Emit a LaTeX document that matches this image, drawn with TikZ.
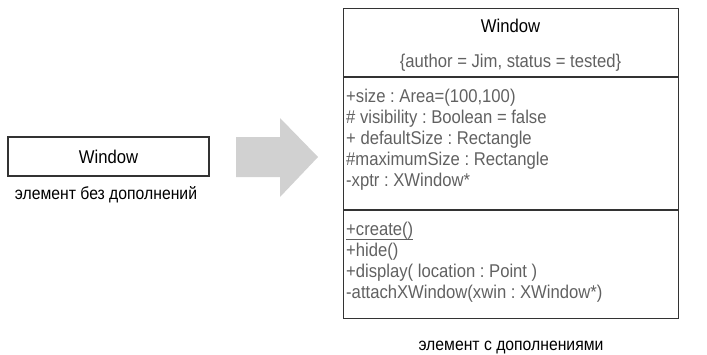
\documentclass[tikz,border=0pt]{standalone}
\usepackage{fontspec}
\setmainfont{Liberation Sans}[FakeStretch=0.9]
\usetikzlibrary{calc}
\frenchspacing

\definecolor{attrgray}{gray}{0.38}
\definecolor{edgegray}{gray}{0.2}
\definecolor{arrowgray}{gray}{0.82}

\tikzset{
  box/.style={draw=edgegray, line width=1.3pt, inner sep=0pt},
  member/.style={anchor=base west, text=attrgray, inner sep=0pt},
  caption/.style={anchor=base, inner sep=0pt},
}

\begin{document}
\begin{tikzpicture}[x=1pt,y=-1pt,font=\fontsize{18.5}{21}\selectfont]
    \useasboundingbox (0,0) rectangle (707,354);
    % element without extras
    \node[box, minimum width=201, minimum height=39] (plain) at (108.5,156.5) {Window};
    \node[caption, font=\fontsize{17.5}{21}\selectfont] (plaincap) at (106,199.5) {элемент без дополнений};
    % big grey arrow
    \fill[arrowgray] (236,137) -- (280,137) -- (280,118) -- (318,157)
        -- (280,197) -- (280,177) -- (236,177) -- cycle;
    % element with extras
    \node[box, anchor=north west, minimum width=335, minimum height=310] (full) at (343,8) {};
    \draw[edgegray, line width=1.3pt] (343,77) -- (678,77);
    \draw[edgegray, line width=1.3pt] (343,210) -- (678,210);
    \node[caption] (name) at (510.5,32) {Window};
    \node[caption, text=attrgray] (tags) at (510.5,67) {\{author = Jim, status = tested\}};
    \node[member] (a1) at (346,102.5) {+size : Area=(100,100)};
    \node[member] (a2) at (346,123.5) {\# visibility : Boolean = false};
    \node[member] (a3) at (346,144.5) {+ defaultSize : Rectangle};
    \node[member] (a4) at (346,165.5) {\#maximumSize : Rectangle};
    \node[member] (a5) at (346,186.5) {-xptr : XWindow*};
    \node[member] (m1) at (346,235) {\underline{\smash{+create()}\vphantom{,}}};
    \node[member] (m2) at (346,256) {+hide()};
    \node[member] (m3) at (346,277) {+display( location : Point )};
    \node[member] (m4) at (346,298) {-attachXWindow(xwin : XWindow*)};
    \node[caption, font=\fontsize{17.5}{21}\selectfont] (fullcap) at (511,350) {элемент с дополнениями};
  \end{tikzpicture}
\end{document}
